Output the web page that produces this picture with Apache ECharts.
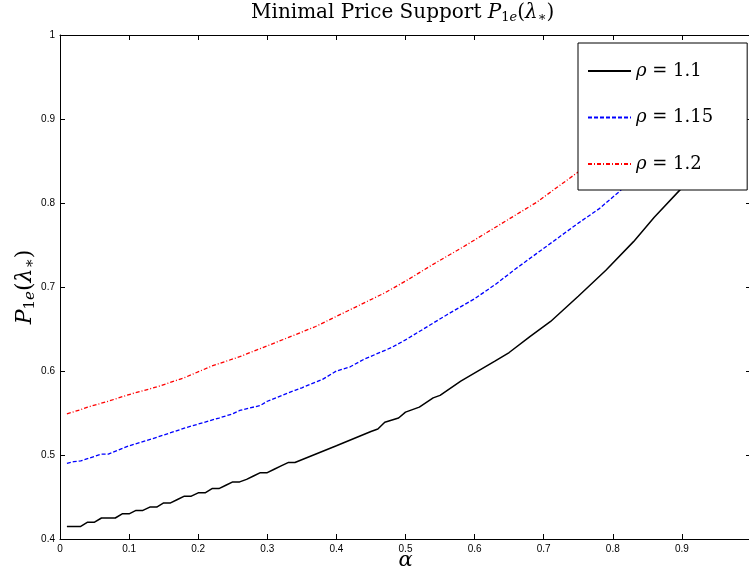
<!DOCTYPE html>
<html>
<head>
<meta charset="utf-8">
<script src="https://cdn.jsdelivr.net/npm/echarts@6/dist/echarts.min.js"></script>
<style>html,body{margin:0;padding:0;background:#fff}#c{width:749px;height:570px}</style>
</head>
<body>
<div id="c"></div>
<script>
// ---- data ----
var rhoLabels = ['1.1', '1.15', '1.2'];
var alphaBlack = [0.01,0.03,0.04,0.05,0.06,0.08,0.09,0.10,0.11,0.12,0.13,0.14,0.15,0.16,0.17,0.18,0.19,0.20,0.21,0.22,0.23,0.24,0.25,0.26,0.27,0.28,0.29,0.30,0.31,0.32,0.33,0.34,0.40,0.45,0.46,0.47,0.49,0.50,0.52,0.54,0.55,0.58,0.63,0.65,0.68,0.71,0.75,0.79,0.83,0.86,0.90,0.93];
var pBlack = [0.415,0.415,0.420,0.420,0.425,0.425,0.430,0.430,0.434,0.434,0.438,0.438,0.443,0.443,0.447,0.451,0.451,0.455,0.455,0.460,0.460,0.464,0.468,0.468,0.471,0.475,0.479,0.479,0.483,0.487,0.491,0.491,0.511,0.528,0.531,0.539,0.544,0.551,0.557,0.568,0.571,0.588,0.612,0.622,0.641,0.659,0.689,0.720,0.754,0.783,0.818,0.850];
var alphaBlue = [0.01,0.02,0.03,0.06,0.07,0.10,0.14,0.18,0.23,0.25,0.26,0.29,0.30,0.34,0.35,0.38,0.40,0.42,0.44,0.48,0.50,0.52,0.56,0.60,0.63,0.66,0.69,0.72,0.75,0.78,0.81,0.85];
var pBlue = [0.490,0.492,0.493,0.501,0.501,0.511,0.521,0.532,0.544,0.549,0.553,0.559,0.564,0.577,0.580,0.590,0.600,0.605,0.614,0.628,0.637,0.647,0.667,0.686,0.703,0.722,0.740,0.758,0.776,0.793,0.814,0.845];
var alphaRed = [0.01,0.03,0.04,0.07,0.10,0.14,0.18,0.22,0.26,0.30,0.34,0.37,0.40,0.43,0.47,0.50,0.54,0.58,0.62,0.66,0.69,0.72,0.75,0.79];
var pRed = [0.549,0.554,0.557,0.564,0.572,0.581,0.592,0.606,0.617,0.630,0.643,0.653,0.665,0.677,0.693,0.707,0.727,0.746,0.766,0.786,0.801,0.819,0.837,0.860];
var xTicks = {min: 0, max: 1, interval: 0.1};
var yTicks = {min: 0.4, max: 1, interval: 0.1};

function pairs(xs, ys) { return xs.map(function (x, i) { return [x, ys[i]]; }); }

var serif = 'DejaVu Serif';
var tickFont = {fontFamily: 'Liberation Sans', fontSize: 10, color: '#000'};

function xAxisCfg(pos, showLabel) {
  return {
    type: 'value', position: pos, min: xTicks.min, max: xTicks.max, interval: xTicks.interval,
    axisLine: {show: true, onZero: false, lineStyle: {color: '#000', width: 1}},
    axisTick: {show: true, inside: true, length: 5, lineStyle: {color: '#000'}},
    axisLabel: Object.assign({show: showLabel, margin: 5, showMaxLabel: false}, tickFont),
    splitLine: {show: false}
  };
}
function yAxisCfg(pos, showLabel) {
  return {
    type: 'value', position: pos, min: yTicks.min, max: yTicks.max, interval: yTicks.interval,
    axisLine: {show: true, onZero: false, lineStyle: {color: '#000', width: 1}},
    axisTick: {show: true, inside: true, length: 5, lineStyle: {color: '#000'}},
    axisLabel: Object.assign({show: showLabel, margin: 5}, tickFont),
    splitLine: {show: false}
  };
}

var xb = xAxisCfg('bottom', true);
xb.name = '{i|α}';
xb.nameLocation = 'middle';
xb.nameGap = 11;
xb.nameMoveOverlap = false;
xb.nameTextStyle = {rich: {i: {fontFamily: serif, fontStyle: 'italic', fontSize: 21, color: '#000'}}};

var yl = yAxisCfg('left', true);
yl.name = '{i|P}{s|1}{si|e}{n|(}{i|λ}{s|∗}{n|)}';
yl.nameLocation = 'middle';
yl.nameRotate = 90;
yl.nameGap = 22;
yl.nameMoveOverlap = false;
yl.nameTextStyle = {rich: {
  n: {fontFamily: serif, fontSize: 22, color: '#000'},
  i: {fontFamily: serif, fontStyle: 'italic', fontSize: 22, color: '#000'},
  s: {fontFamily: serif, fontSize: 15, color: '#000', padding: [10, 0, 0, 0]},
  si: {fontFamily: serif, fontStyle: 'italic', fontSize: 15, color: '#000', padding: [10, 0, 0, 0]}
}};

var names = rhoLabels.map(function (r) { return 'ρ = ' + r; });

var option = {
  animation: false,
  backgroundColor: '#fff',
  title: {
    text: '{n|Minimal Price Support }{i|P}{s|1}{si|e}{n|(}{i|λ}{s|∗}{n|)}',
    left: 251, top: 0, padding: [2, 0, 0, 0],
    textStyle: {fontWeight: 'normal', rich: {
      n: {fontFamily: serif, fontWeight: 'normal', fontSize: 20, color: '#000'},
      i: {fontFamily: serif, fontWeight: 'normal', fontStyle: 'italic', fontSize: 20, color: '#000'},
      s: {fontFamily: serif, fontWeight: 'normal', fontSize: 13, color: '#000', padding: [9, 0, 0, 0]},
      si: {fontFamily: serif, fontWeight: 'normal', fontStyle: 'italic', fontSize: 13, color: '#000', padding: [9, 0, 0, 0]}
    }}
  },
  grid: {left: 60, right: -2, top: 35, bottom: 31, outerBoundsMode: 'none', containLabel: false},
  xAxis: [xb, xAxisCfg('top', false)],
  yAxis: [yl, yAxisCfg('right', false)],
  legend: {
    orient: 'vertical', left: 578, top: 43,
    backgroundColor: '#fff', borderColor: '#000', borderWidth: 1, borderRadius: 0,
    padding: [19, 34, 17, 9],
    itemWidth: 43, itemHeight: 14, itemGap: 28.5, z: 10,
    itemStyle: {opacity: 0},
    data: names,
    formatter: function (name) { return '{i|ρ}{n|' + name.slice(1) + '}'; },
    textStyle: {rich: {
      i: {fontFamily: serif, fontStyle: 'italic', fontSize: 18, color: '#000', lineHeight: 20},
      n: {fontFamily: serif, fontSize: 18, color: '#000', lineHeight: 20}
    }}
  },
  series: [
    {name: names[0], type: 'line', data: pairs(alphaBlack, pBlack), symbol: 'none', z: 3,
      lineStyle: {color: '#000', width: 1.5, type: 'solid'}, itemStyle: {color: '#000'}},
    {name: names[1], type: 'line', data: pairs(alphaBlue, pBlue), symbol: 'none', z: 3,
      lineStyle: {color: '#0000ff', width: 1.3, type: [4, 2]}, itemStyle: {color: '#0000ff'}},
    {name: names[2], type: 'line', data: pairs(alphaRed, pRed), symbol: 'none', z: 3,
      lineStyle: {color: '#ff0000', width: 1.3, type: [4, 2, 1, 2]}, itemStyle: {color: '#ff0000'}}
  ]
};
var chart = echarts.init(document.getElementById('c'));
chart.setOption(option);
</script>
</body>
</html>
